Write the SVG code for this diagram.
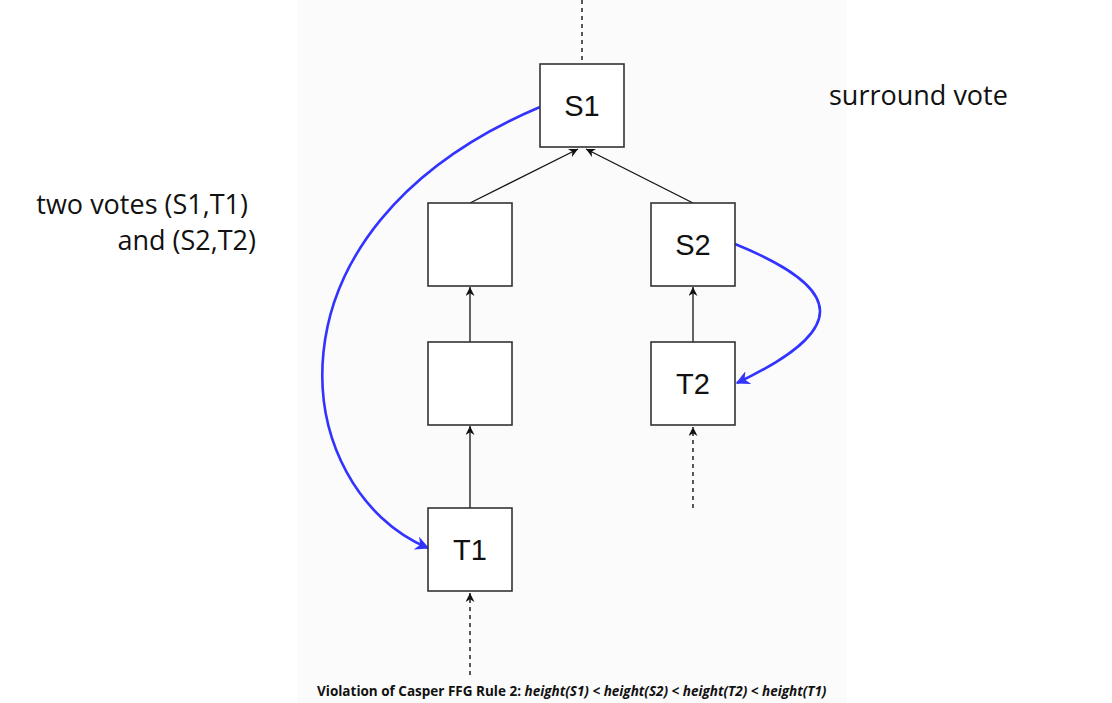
<svg xmlns="http://www.w3.org/2000/svg" width="1112" height="703" viewBox="0 0 1112 703">
<style>
.box{fill:#ffffff;stroke:#333333;stroke-width:1.6}
.lbl{font-family:"Liberation Sans",Arial,sans-serif;font-size:29px;fill:#111111;text-anchor:middle}
.edge{stroke:#111111;stroke-width:1.3;fill:none}
.dash{stroke:#222222;stroke-width:1.5;fill:none;stroke-dasharray:4,4}
.vote{stroke:#3333ff;stroke-width:2.6;fill:none}
.note{font-family:"Open Sans","Noto Sans",sans-serif;font-size:27px;fill:#111111}
.cap{font-family:"Open Sans","Noto Sans",sans-serif;font-size:13.5px;font-weight:bold;fill:#111111}
</style>
<defs>
<marker id="ah" viewBox="0 0 10 10" refX="10" refY="5" markerWidth="9" markerHeight="9" markerUnits="userSpaceOnUse" orient="auto">
<path d="M0,0 L10,5 L0,10 L3,5 z" fill="#111111"/>
</marker>
<marker id="bh" viewBox="0 0 10 10" refX="9" refY="5" markerWidth="14" markerHeight="14" markerUnits="userSpaceOnUse" orient="auto">
<path d="M0,0 L10,5 L0,10 L3,5 z" fill="#3333ff"/>
</marker>
</defs>
<rect x="0" y="0" width="1112" height="703" fill="#ffffff"/>
<rect x="297" y="0" width="550" height="703" fill="#fbfbfb"/>
<g id="connectors">
<path class="dash" d="M582,0 L582,64"/>
<path class="edge" d="M470,203 L578,149" marker-end="url(#ah)"/>
<path class="edge" d="M693,203 L586,149" marker-end="url(#ah)"/>
<path class="edge" d="M470,342 L470,287" marker-end="url(#ah)"/>
<path class="edge" d="M470,508 L470,426" marker-end="url(#ah)"/>
<path class="edge" d="M693,342 L693,287" marker-end="url(#ah)"/>
<path class="dash" d="M470,675 L470,593" marker-end="url(#ah)"/>
<path class="dash" d="M693,508 L693,427" marker-end="url(#ah)"/>
<path class="vote" d="M540,107 C250,230 290,490 428,548" marker-end="url(#bh)"/>
<path class="vote" d="M735,244 C848,290 848,330 737,383" marker-end="url(#bh)"/>
</g>
<g id="S1"><rect class="box" x="540" y="64" width="84" height="83"/><text class="lbl" x="582" y="116">S1</text></g>
<g id="B2"><rect class="box" x="428" y="203" width="84" height="83"/></g>
<g id="B3"><rect class="box" x="428" y="342" width="84" height="83"/></g>
<g id="T1"><rect class="box" x="428" y="508" width="84" height="83"/><text class="lbl" x="470" y="560">T1</text></g>
<g id="S2"><rect class="box" x="651" y="203" width="84" height="83"/><text class="lbl" x="693" y="255">S2</text></g>
<g id="T2"><rect class="box" x="651" y="342" width="84" height="83"/><text class="lbl" x="693" y="394">T2</text></g>
<g id="notes">
<text class="note" x="829" y="105">surround vote</text>
<text class="note" x="248" y="214" text-anchor="end">two votes (S1,T1)</text>
<text class="note" x="256" y="250" text-anchor="end">and (S2,T2)</text>
</g>
<text class="cap" x="317" y="696">Violation of Casper FFG Rule 2: <tspan font-style="italic">height(S1) &lt; height(S2) &lt; height(T2) &lt; height(T1)</tspan></text>
</svg>
